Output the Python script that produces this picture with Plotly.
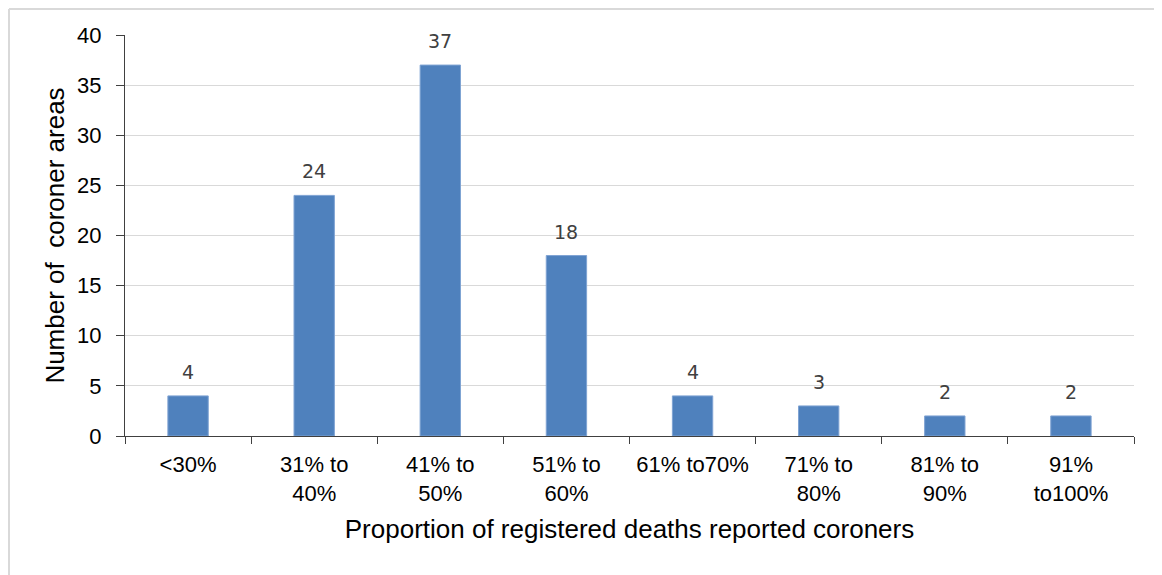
import plotly.graph_objects as go

categories = ["<30%", "31% to<br>40%", "41% to<br>50%", "51% to<br>60%", "61% to70%",
              "71% to<br>80%", "81% to<br>90%", "91%<br>to100%"]
values = [4, 24, 37, 18, 4, 3, 2, 2]
y_ticks = [0, 5, 10, 15, 20, 25, 30, 35, 40]

fig = go.Figure()
fig.add_trace(go.Bar(
    x=categories, y=values,
    marker=dict(color="#4F81BD", line=dict(color="#7FA3D3", width=1)),
    width=0.32,
    hoverinfo="x+y",
))

for c, v in zip(categories, values):
    fig.add_annotation(x=c, y=v, text=str(v), showarrow=False,
                       yanchor="bottom", yshift=11,
                       font=dict(family="DejaVu Sans", size=19, color="#404040"))

OFF = 8  # default page body margin
W, H = 1162, 575
L, R, T, B = 125 - OFF, 36, 35 - OFF, 147
pw, ph = W - L - R, H - T - B
def fx(x):  # figure pixel -> paper x
    return (x - L) / pw
def fy(y):  # figure pixel -> paper y
    return (H - B - y) / ph

# outer chart border (top and left), at the figure's top-left edge
fig.add_shape(type="line", xref="paper", yref="paper",
              x0=fx(1), x1=fx(W + 10), y0=fy(1), y1=fy(1),
              line=dict(color="#D9D9D9", width=2))
fig.add_shape(type="line", xref="paper", yref="paper",
              x0=fx(1), x1=fx(1), y0=fy(1), y1=fy(H + 10),
              line=dict(color="#D9D9D9", width=2))

fig.update_layout(
    width=W, height=H,
    margin=dict(l=L, r=R, t=T, b=B),
    paper_bgcolor="white", plot_bgcolor="white",
    font=dict(family="Liberation Sans, Arial", color="#000000"),
    showlegend=False,
    xaxis=dict(
        type="category",
        tickson="boundaries",
        ticks="outside", ticklen=7, tickcolor="#404040", tickwidth=1,
        ticklabelstandoff=9,
        showline=True, linecolor="#404040", linewidth=1,
        showgrid=False,
        tickfont=dict(size=22, color="#000000"),
        title=dict(text="Proportion of registered deaths reported coroners",
                   font=dict(size=26, color="#000000"), standoff=14),
    ),
    yaxis=dict(
        range=[0, 40],
        tickvals=y_ticks,
        ticks="outside", ticklen=8, tickcolor="#404040", tickwidth=1,
        ticklabelstandoff=10,
        showline=True, linecolor="#404040", linewidth=1,
        showgrid=True, gridcolor="#D9D9D9", gridwidth=1,
        zeroline=False,
        tickfont=dict(size=22, color="#000000"),
        title=dict(text="Number of  coroner areas",
                   font=dict(size=26, color="#000000"), standoff=5),
    ),
)

fig.write_html("out.html")
